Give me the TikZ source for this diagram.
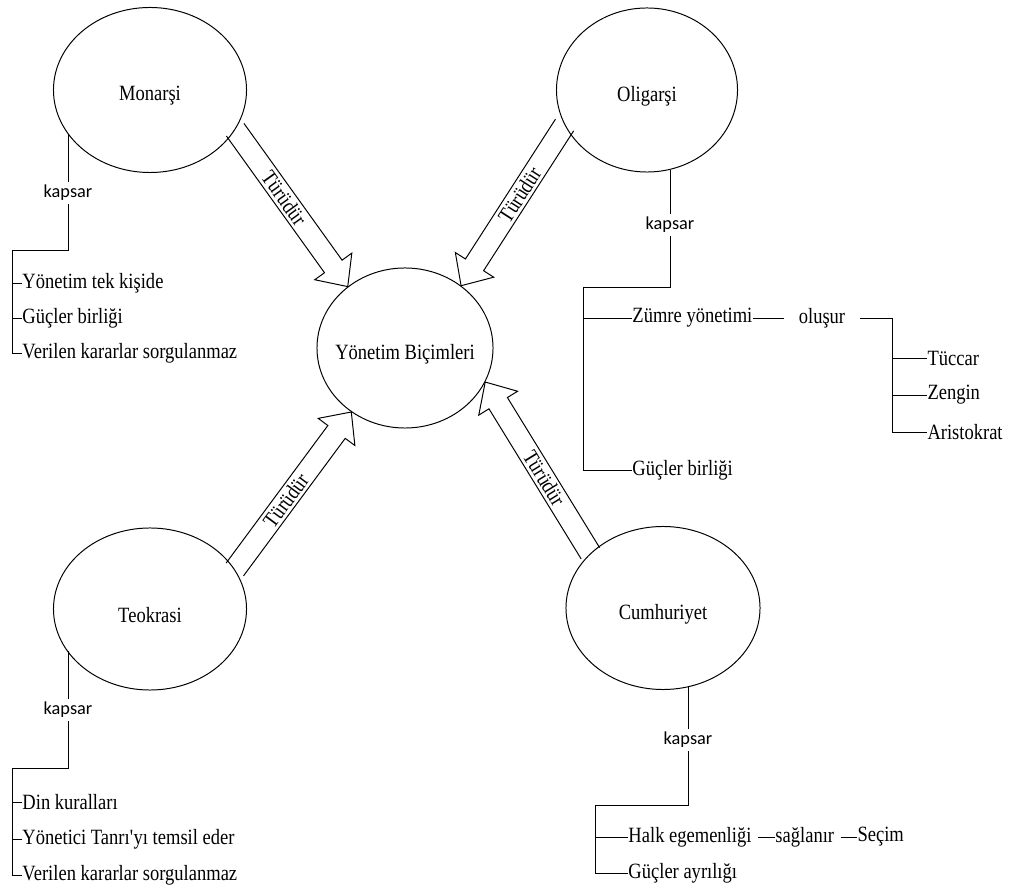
\documentclass[tikz,border=0pt]{standalone}
\usepackage{fontspec}
\setmainfont{Liberation Serif}[FakeStretch=0.85]
\newfontfamily\kapfont{Carlito}
\usetikzlibrary{shapes.geometric, calc}

\tikzset{
  form/.style={draw, ellipse, inner sep=0pt, label={[yshift=-0.15cm]center:#1}},
  leaf/.style={anchor=west, inner xsep=0pt},
  rel/.style={font=\kapfont\fontsize{13}{15}\selectfont, inner xsep=2pt, inner ysep=2pt},
  kindarrow/.style={line join=miter}
}

% ici bos ok: #1 baslangic, #2 uc, #3 yazi
\newcommand{\turarrow}[3]{%
  \coordinate (head) at ($(#2)!0.62cm!(#1)$);
  \draw[kindarrow] ($(#1)!0.27cm!90:(#2)$) -- ($(head)!0.27cm!90:(#2)$)
    -- ($(head)!0.57cm!90:(#2)$) -- (#2) -- ($(head)!0.57cm!-90:(#2)$)
    -- ($(head)!0.27cm!-90:(#2)$) -- ($(#1)!0.27cm!-90:(#2)$);
  \path (#1) -- (head) node[midway, sloped, inner sep=0pt] {#3};
}

\begin{document}
\begin{tikzpicture}[x=0.025cm, y=-0.025cm, line width=0.7pt,
    every node/.style={font=\fontsize{15.5}{18}\selectfont}]
    \useasboundingbox (0,0) rectangle (1014,891);
    % Ana kavram
    \node[form={Yönetim Biçimleri}, minimum width=4.4cm, minimum height=4cm] (yon) at (405,348) {};
    % Turler
    \node[form=Monarşi, minimum width=4.825cm, minimum height=4.125cm] (mon) at (150,90) {};
    \node[form=Oligarşi, minimum width=4.525cm, minimum height=4.1cm] (oli) at (647,90) {};
    \node[form=Teokrasi, minimum width=4.825cm, minimum height=4.05cm] (teo) at (150,609) {};
    \node[form=Cumhuriyet, minimum width=4.85cm, minimum height=4.075cm] (cum) at (663,608) {};

    % Turudur oklari
    \coordinate (a1) at (mon.-25);  \coordinate (b1) at (yon.133);
    \coordinate (a2) at (oli.-157); \coordinate (b2) at (yon.48);
    \coordinate (a3) at (teo.25);   \coordinate (b3) at (yon.-130);
    \coordinate (a4) at (cum.143);  \coordinate (b4) at (yon.-23);
    \turarrow{a1}{b1}{Türüdür}
    \turarrow{a2}{b2}{Türüdür}
    \turarrow{a3}{b3}{Türüdür}
    \turarrow{a4}{b4}{Türüdür}

    % Monarsi
    \node[rel] (kap1) at (68,193) {kapsar};
    \coordinate (m0) at (12,250);
    \node[leaf] (m1) at (22,283) {Yönetim tek kişide};
    \node[leaf] (m2) at (22,318) {Güçler birliği};
    \node[leaf] (m3) at (22,353) {Verilen kararlar sorgulanmaz};
    \draw (kap1.north |- mon.208) -- (kap1.north);
    \draw (kap1.south) |- (m0);
    \foreach \n in {m1,m2,m3}
        \draw (m0) |- (\n.west);

    % Oligarsi
    \node[rel] (kap2) at (670,225) {kapsar};
    \coordinate (o0) at (583,287);
    \node[leaf] (zum) at (632,318) {Zümre yönetimi};
    \node[leaf] (gb2) at (632,470) {Güçler birliği};
    \node[inner xsep=0.35cm] (olus) at (822,318) {oluşur};
    \coordinate (o1) at (892,318);
    \node[leaf] (tuc) at (927,358) {Tüccar};
    \node[leaf] (zen) at (927,395) {Zengin};
    \node[leaf] (ari) at (927,432) {Aristokrat};
    \draw (kap2.north |- oli.-74) -- (kap2.north);
    \draw (kap2.south) |- (o0);
    \draw (o0) |- (zum.west);
    \draw (o0) |- (gb2.west);
    \draw (zum.east) -- (olus.west);
    \draw (olus.east) -- (o1);
    \foreach \n in {tuc,zen,ari}
        \draw (o1) |- (\n.west);

    % Teokrasi
    \node[rel] (kap3) at (68,710) {kapsar};
    \coordinate (t0) at (12,768);
    \node[leaf] (t1) at (22,802) {Din kuralları};
    \node[leaf] (t2) at (22,839) {Yönetici Tanrı\textquotesingle yı temsil eder};
    \node[leaf] (t3) at (22,875) {Verilen kararlar sorgulanmaz};
    \draw (kap3.north |- teo.207) -- (kap3.north);
    \draw (kap3.south) |- (t0);
    \foreach \n in {t1,t2,t3}
        \draw (t0) |- (\n.west);

    % Cumhuriyet
    \node[rel] (kap4) at (688,740) {kapsar};
    \coordinate (c0) at (595,805);
    \node[leaf] (halk) at (628,837) {Halk egemenliği};
    \node[leaf] (gba) at (628,873) {Güçler ayrılığı};
    \node[leaf] (sag) at (775,837) {sağlanır};
    \node[leaf] (sec) at (857,837) {Seçim};
    \draw (kap4.north |- cum.-72) -- (kap4.north);
    \draw (kap4.south) |- (c0);
    \draw (c0) |- (halk.west);
    \draw (c0) |- (gba.west);
    \draw ([xshift=0.15cm]halk.east) -- (sag.west);
    \draw ([xshift=0.15cm]sag.east) -- (sec.west);
\end{tikzpicture}
\end{document}
